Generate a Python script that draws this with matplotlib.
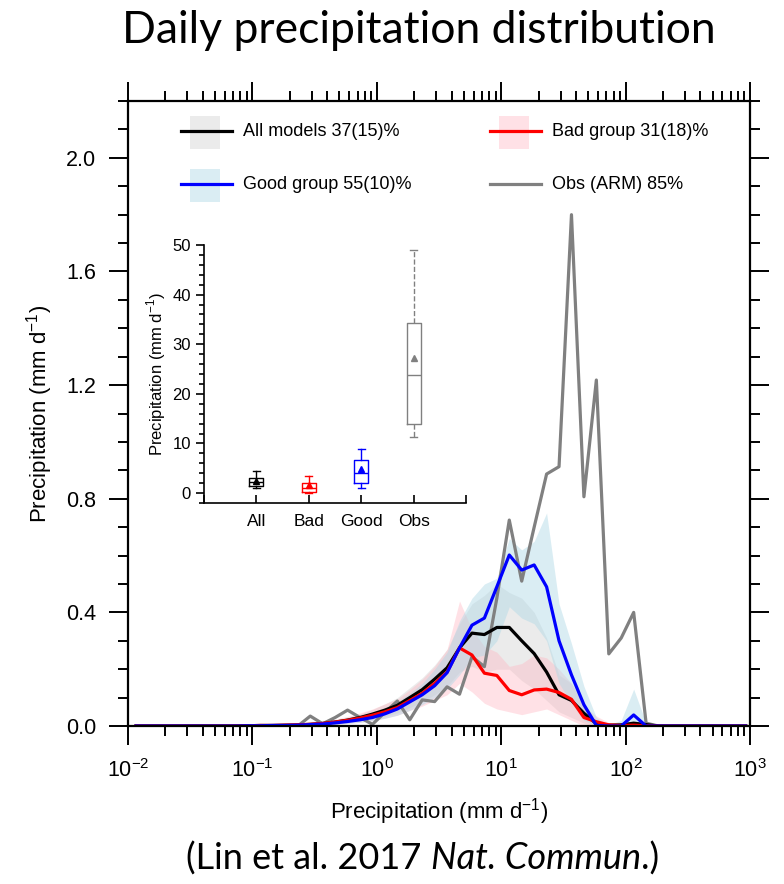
import numpy as np
import matplotlib
matplotlib.use("Agg")
import matplotlib.pyplot as plt
from matplotlib.patches import Rectangle
from matplotlib.ticker import LogLocator, MultipleLocator, NullFormatter

plt.rcParams['font.family'] = ['Liberation Sans', 'DejaVu Sans']
plt.rcParams['mathtext.fontset'] = 'custom'
plt.rcParams['mathtext.rm'] = 'Liberation Sans'

# bin centres of the daily precipitation histogram (mm/d), 0.1 decade bins
bins = np.logspace(-1.935, 2.965, 50)

obs = [0, 0, 0, 0, 0, 0, 0, 0, 0, 0, 0, 0, 0, 0,
       0.035, 0.008, 0.03, 0.056, 0.03, 0.006, 0.048, 0.088, 0.022, 0.092,
       0.086, 0.138, 0.112, 0.244, 0.209, 0.45, 0.725, 0.51, 0.70, 0.887,
       0.913, 1.80, 0.807, 1.218, 0.254, 0.31, 0.40, 0.01,
       0, 0, 0, 0, 0, 0, 0, 0]
all_mod = [0, 0, 0, 0, 0, 0, 0, 0, 0, 0.001, 0.002, 0.002, 0.003, 0.004,
           0.006, 0.009, 0.014, 0.021, 0.03, 0.042, 0.056, 0.073, 0.10, 0.128,
           0.165, 0.205, 0.275, 0.327, 0.322, 0.347, 0.347, 0.30, 0.255, 0.19,
           0.11, 0.09, 0.045, 0.008, 0.003, 0.004, 0.01, 0.005,
           0, 0, 0, 0, 0, 0, 0, 0]
bad = [0, 0, 0, 0, 0, 0, 0, 0, 0, 0.001, 0.002, 0.002, 0.003, 0.004,
       0.006, 0.009, 0.014, 0.02, 0.028, 0.038, 0.05, 0.065, 0.09, 0.115,
       0.15, 0.19, 0.275, 0.25, 0.186, 0.178, 0.125, 0.11, 0.127, 0.13,
       0.118, 0.094, 0.03, 0.015, 0.004, 0.002, 0.003, 0.001,
       0, 0, 0, 0, 0, 0, 0, 0]
good = [0, 0, 0, 0, 0, 0, 0, 0, 0, 0.001, 0.001, 0.002, 0.002, 0.003,
        0.005, 0.007, 0.011, 0.016, 0.022, 0.03, 0.043, 0.06, 0.085, 0.11,
        0.142, 0.188, 0.275, 0.355, 0.38, 0.49, 0.602, 0.549, 0.567, 0.49,
        0.30, 0.18, 0.075, 0.002, 0, 0, 0.039, 0,
        0, 0, 0, 0, 0, 0, 0, 0]

# model spread (shading)
all_lo = [0, 0, 0, 0, 0, 0, 0, 0, 0, 0, 0.001, 0.001, 0.002, 0.002,
          0.003, 0.005, 0.008, 0.012, 0.017, 0.024, 0.034, 0.046, 0.065, 0.085,
          0.11, 0.14, 0.19, 0.21, 0.19, 0.2, 0.2, 0.16, 0.13, 0.09,
          0.05, 0.03, 0.01, 0, 0, 0, 0, 0,
          0, 0, 0, 0, 0, 0, 0, 0]
all_hi = [0, 0, 0, 0, 0, 0, 0, 0, 0, 0.002, 0.003, 0.004, 0.005, 0.007,
          0.01, 0.014, 0.02, 0.03, 0.042, 0.058, 0.078, 0.10, 0.135, 0.17,
          0.215, 0.27, 0.36, 0.43, 0.46, 0.5, 0.47, 0.45, 0.40, 0.31,
          0.18, 0.15, 0.08, 0.02, 0.008, 0.01, 0.02, 0.01,
          0, 0, 0, 0, 0, 0, 0, 0]
bad_lo = [0, 0, 0, 0, 0, 0, 0, 0, 0, 0, 0.001, 0.001, 0.001, 0.002,
          0.003, 0.004, 0.006, 0.009, 0.013, 0.019, 0.028, 0.038, 0.055, 0.07,
          0.09, 0.11, 0.15, 0.12, 0.08, 0.06, 0.05, 0.04, 0.05, 0.06,
          0.04, 0.02, 0, 0, 0, 0, 0, 0,
          0, 0, 0, 0, 0, 0, 0, 0]
bad_hi = [0, 0, 0, 0, 0, 0, 0, 0, 0, 0.002, 0.003, 0.004, 0.006, 0.008,
          0.011, 0.016, 0.024, 0.034, 0.046, 0.06, 0.078, 0.095, 0.128, 0.165,
          0.21, 0.27, 0.44, 0.34, 0.28, 0.26, 0.21, 0.22, 0.25, 0.24,
          0.2, 0.15, 0.07, 0.035, 0.012, 0.005, 0, 0,
          0, 0, 0, 0, 0, 0, 0, 0]
good_lo = [0, 0, 0, 0, 0, 0, 0, 0, 0, 0, 0, 0.001, 0.001, 0.002,
           0.003, 0.004, 0.006, 0.009, 0.013, 0.019, 0.027, 0.038, 0.055, 0.075,
           0.1, 0.13, 0.18, 0.24, 0.25, 0.3, 0.42, 0.38, 0.36, 0.3,
           0.15, 0.08, 0.02, 0, 0, 0, 0, 0,
           0, 0, 0, 0, 0, 0, 0, 0]
good_hi = [0, 0, 0, 0, 0, 0, 0, 0, 0, 0.002, 0.002, 0.003, 0.004, 0.005,
           0.008, 0.011, 0.016, 0.024, 0.033, 0.044, 0.06, 0.085, 0.115, 0.15,
           0.2, 0.26, 0.37, 0.45, 0.5, 0.52, 0.66, 0.62, 0.65, 0.75,
           0.43, 0.29, 0.14, 0.03, 0.005, 0.02, 0.13, 0.01,
           0, 0, 0, 0, 0, 0, 0, 0]

legend_labels = ['All models 37(15)%', 'Bad group 31(18)%',
                 'Good group 55(10)%', 'Obs (ARM) 85%']

# inset box plot stats (mm/d)
box_names = ['All', 'Bad', 'Good', 'Obs']
box_colors = ['black', 'red', 'blue', 'gray']
box_stats = [
    dict(whislo=1.1, q1=1.5, med=2.2, q3=3.0, whishi=4.4, mean=2.5),
    dict(whislo=0.1, q1=0.2, med=1.0, q3=2.0, whishi=3.5, mean=1.7),
    dict(whislo=1.1, q1=2.0, med=4.0, q3=6.7, whishi=8.9, mean=4.8),
    dict(whislo=11.2, q1=13.9, med=23.7, q3=34.3, whishi=49.0, mean=27.2),
]

fig = plt.figure(figsize=(7.84, 8.84), dpi=100)
ax = fig.add_axes([0.1633, 0.1787, 0.7933, 0.7070])

band_colors = {'all': ('#d3d3d3', 0.45), 'bad': ('#ffb6c1', 0.4), 'good': ('#add8e6', 0.45)}
ax.fill_between(bins, all_lo, all_hi, color=band_colors['all'][0], alpha=band_colors['all'][1], lw=0)
ax.fill_between(bins, bad_lo, bad_hi, color=band_colors['bad'][0], alpha=band_colors['bad'][1], lw=0)
ax.fill_between(bins, good_lo, good_hi, color=band_colors['good'][0], alpha=band_colors['good'][1], lw=0)

lw = 2.3
ax.plot(bins, obs, color='#808080', lw=lw)
ax.plot(bins, all_mod, color='black', lw=lw)
ax.plot(bins, bad, color='red', lw=lw)
ax.plot(bins, good, color='blue', lw=lw)

ax.set_xscale('log')
ax.set_xlim(1e-2, 1e3)
ax.set_ylim(0, 2.2)
ax.xaxis.set_major_locator(LogLocator(base=10, numticks=10))
ax.xaxis.set_minor_locator(LogLocator(base=10, subs=np.arange(2, 10), numticks=20))
ax.xaxis.set_minor_formatter(NullFormatter())
ax.yaxis.set_major_locator(MultipleLocator(0.4))
ax.yaxis.set_minor_locator(MultipleLocator(0.1))
ax.yaxis.set_major_formatter(plt.FuncFormatter(lambda v, p: '%.1f' % v))
ax.tick_params(which='both', direction='out', top=True, right=True, width=1.4, labelsize=15.5)
ax.tick_params(which='major', length=14, pad=9)
ax.tick_params(axis='x', which='major', pad=10)
ax.tick_params(which='minor', length=7.5)
for s in ax.spines.values():
    s.set_linewidth(1.6)
ax.set_xlabel(r'Precipitation (mm d$^{-1}$)', fontsize=16, labelpad=10)
ax.set_ylabel(r'Precipitation (mm d$^{-1}$)', fontsize=16, labelpad=8)

# legend drawn by hand: swatch + line + label
leg = [(0.0852, 0.952, 'black', band_colors['all'], legend_labels[0]),
       (0.582, 0.952, 'red', band_colors['bad'], legend_labels[1]),
       (0.0852, 0.867, 'blue', band_colors['good'], legend_labels[2]),
       (0.582, 0.867, '#808080', None, legend_labels[3])]
for x0, y0, c, band, lab in leg:
    if band is not None:
        ax.add_patch(Rectangle((x0 + 0.015, y0 - 0.029), 0.048, 0.053, transform=ax.transAxes,
                               color=band[0], alpha=band[1], lw=0))
    ax.plot([x0, x0 + 0.082], [y0, y0], color=c, lw=lw, transform=ax.transAxes)
    ax.text(x0 + 0.1, y0, lab, transform=ax.transAxes, fontsize=13, va='center', ha='left')

# inset box plot
ins = fig.add_axes([0.2602, 0.431, 0.3342, 0.2919])
for i, (st, c) in enumerate(zip(box_stats, box_colors)):
    ls = '--' if box_names[i] == 'Obs' else '-'
    ins.bxp([st], positions=[i + 1], widths=0.27, capwidths=0.13, showmeans=True, showfliers=False,
            boxprops=dict(color=c, lw=1), whiskerprops=dict(color=c, lw=1, ls=ls),
            capprops=dict(color=c, lw=1), medianprops=dict(color=c, lw=1),
            meanprops=dict(marker='^', markerfacecolor=c, markeredgecolor=c, markersize=4))
ins.set_xlim(0, 5)
ins.set_ylim(-2, 50)
ins.set_xticks([0, 1, 2, 3, 4, 5])
ins.set_xticklabels([''] + box_names + [''])
ins.yaxis.set_major_locator(MultipleLocator(10))
ins.yaxis.set_minor_locator(MultipleLocator(2))
ins.tick_params(axis='x', direction='in', length=6, width=1.2, labelsize=12.5, pad=8)
ins.tick_params(axis='y', which='major', direction='out', length=6, width=1.2, labelsize=12)
ins.tick_params(axis='y', which='minor', direction='out', length=3.5, width=1.2)
ins.spines['top'].set_visible(False)
ins.spines['right'].set_visible(False)
for s in ['left', 'bottom']:
    ins.spines[s].set_linewidth(1.2)
ins.set_ylabel(r'Precipitation (mm d$^{-1}$)', fontsize=12, labelpad=3)
ins.patch.set_alpha(0)

fig.text(0.534, 0.966, 'Daily precipitation distribution', fontsize=32, family='Lato',
         ha='center', va='center')

# caption with italic journal name, pieces laid out side by side
r = fig.canvas.get_renderer()
parts = [('(Lin et al. 2017 ', 'normal'), ('Nat. Commun', 'italic'), ('.)', 'normal')]
texts = [fig.text(0, 0.029, p, fontsize=26, family='Lato', style=s, va='center') for p, s in parts]
widths = [t.get_window_extent(r).width for t in texts]
x = (0.539 * fig.bbox.width - sum(widths) / 2) / fig.bbox.width
for t, w in zip(texts, widths):
    t.set_x(x)
    x += w / fig.bbox.width

fig.savefig('out.png', dpi=100)
